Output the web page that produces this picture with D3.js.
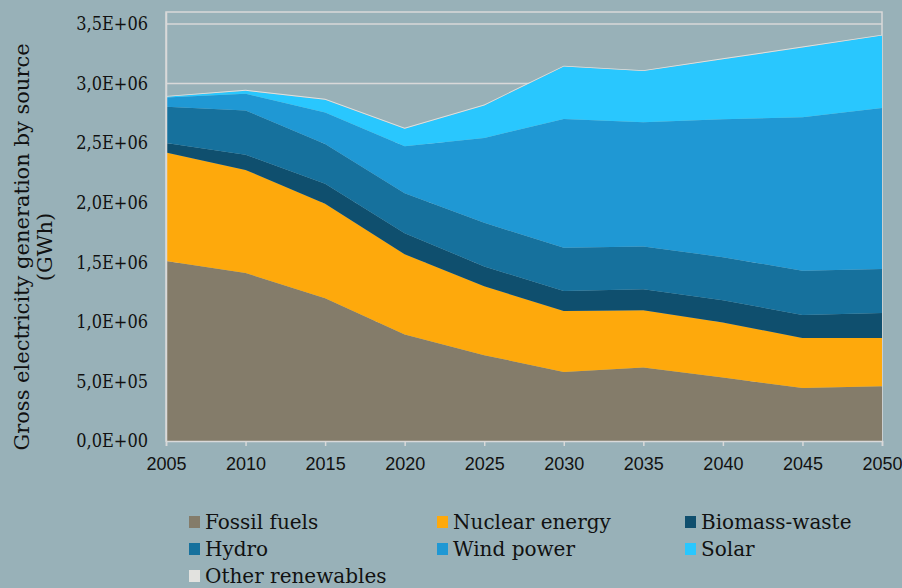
<!DOCTYPE html>
<html lang="en">
<head>
<script src="https://cdn.jsdelivr.net/npm/d3@7"></script>
<style>
  body { margin: 0; background: #98b1b8; }
  svg { display: block; }
</style>
</head>
<body>
<svg width="902" height="588"></svg>
<script>
var years = [2005, 2010, 2015, 2020, 2025, 2030, 2035, 2040, 2045, 2050];
var series = ["Fossil fuels", "Nuclear energy", "Biomass-waste", "Hydro", "Wind power", "Solar", "Other renewables"];
// GWh
var fossil  = [1510000, 1410000, 1197000, 893000, 720000, 580000, 617000, 533000, 444000, 460000];
var nuclear = [912000, 865000, 793000, 675000, 578000, 511000, 480000, 461000, 421000, 405000];
var biomass = [79000, 128000, 168000, 176000, 167000, 167000, 176000, 187000, 193000, 209000];
var hydro   = [304000, 371000, 335000, 335000, 366000, 364000, 360000, 362000, 371000, 369000];
var wind    = [78000, 140000, 264000, 394000, 712000, 1080000, 1041000, 1156000, 1287000, 1351000];
var solar   = [5000, 25000, 107000, 148000, 273000, 440000, 430000, 504000, 587000, 608000];
var other   = [8000, 8000, 8000, 8000, 8000, 8000, 8000, 8000, 8000, 8000];
var yTicks  = [0, 500000, 1000000, 1500000, 2000000, 2500000, 3000000, 3500000];
var colors  = ["#847c6a", "#fea90c", "#0f4f6e", "#16719d", "#1f98d4", "#29c7fe", "#e2e2df"];

var table = years.map(function(y, i) {
    return {
        year: y,
        "Fossil fuels": fossil[i],
        "Nuclear energy": nuclear[i],
        "Biomass-waste": biomass[i],
        "Hydro": hydro[i],
        "Wind power": wind[i],
        "Solar": solar[i],
        "Other renewables": other[i]
    };
});

var svg = d3.select("svg");
var mLeft = 166, mRight = 882, mTop = 12, mBottom = 441;

var x = d3.scaleLinear().domain([2005, 2050]).range([mLeft, mRight]);
var y = d3.scaleLinear().domain([0, 3600000]).range([mBottom, mTop]);
var color = d3.scaleOrdinal().domain(series).range(colors);

function fmt(v) {
    if (v === 0) return "0,0E+00";
    var e = Math.floor(Math.log10(v));
    var m = v / Math.pow(10, e);
    return m.toFixed(1).replace(".", ",") + "E+" + (e < 10 ? "0" : "") + e;
}

var gridColor = "#d9d9d9";

// plot frame + gridlines
svg.append("rect")
    .attr("x", mLeft).attr("y", mTop)
    .attr("width", mRight - mLeft).attr("height", mBottom - mTop)
    .attr("fill", "none").attr("stroke", gridColor).attr("stroke-width", 1.5);

svg.append("g").selectAll("line")
    .data(yTicks)
    .enter().append("line")
    .attr("x1", mLeft).attr("x2", mRight)
    .attr("y1", function(d) { return y(d); })
    .attr("y2", function(d) { return y(d); })
    .attr("stroke", gridColor).attr("stroke-width", 1.5);

// stacked areas
var stack = d3.stack().keys(series);
var layers = stack(table);
var area = d3.area()
    .x(function(d) { return x(d.data.year); })
    .y0(function(d) { return y(d[0]); })
    .y1(function(d) { return y(d[1]); });

svg.append("g").selectAll("path")
    .data(layers)
    .enter().append("path")
    .attr("d", area)
    .attr("fill", function(d) { return color(d.key); });

// x axis
var xAxis = svg.append("g")
    .attr("transform", "translate(0," + mBottom + ")")
    .call(d3.axisBottom(x).tickValues(years).tickFormat(d3.format("d")).tickSize(5).tickPadding(11));
xAxis.select(".domain").attr("stroke", gridColor).attr("stroke-width", 1.5);
xAxis.selectAll(".tick line").attr("stroke", gridColor).attr("stroke-width", 1.5);
xAxis.selectAll("text")
    .attr("fill", "#111")
    .style("font-family", "'Liberation Sans', sans-serif")
    .style("font-size", "18px");

// y axis
var yAxis = svg.append("g")
    .attr("transform", "translate(" + mLeft + ",0)")
    .call(d3.axisLeft(y).tickValues(yTicks).tickFormat(fmt).tickSize(0).tickPadding(18));
yAxis.select(".domain").attr("stroke", gridColor).attr("stroke-width", 1.5);
yAxis.selectAll("text")
    .attr("fill", "#111")
    .style("font-family", "'DejaVu Serif Condensed', 'DejaVu Serif', serif")
    .style("font-stretch", "condensed")
    .style("font-size", "18px");

// y title
var title = svg.append("text")
    .attr("transform", "translate(29,247) rotate(-90)")
    .attr("text-anchor", "middle")
    .attr("fill", "#111")
    .style("font-family", "'DejaVu Serif', serif")
    .style("font-size", "21px");
title.append("tspan").attr("x", 0).attr("dy", 0).text("Gross electricity generation by source");
title.append("tspan").attr("x", 0).attr("dy", 23).text("(GWh)");

// legend
var legend = svg.append("g").selectAll("g")
    .data(series)
    .enter().append("g")
    .attr("transform", function(d, i) {
        return "translate(" + (189 + (i % 3) * 248) + "," + (516 + Math.floor(i / 3) * 27) + ")";
    });
legend.append("rect")
    .attr("width", 11).attr("height", 12)
    .attr("fill", function(d) { return color(d); });
legend.append("text")
    .attr("x", 16).attr("y", 13)
    .attr("fill", "#111")
    .style("font-family", "'DejaVu Serif', serif")
    .style("font-size", "20px")
    .text(function(d) { return d; });
</script>
</body>
</html>
